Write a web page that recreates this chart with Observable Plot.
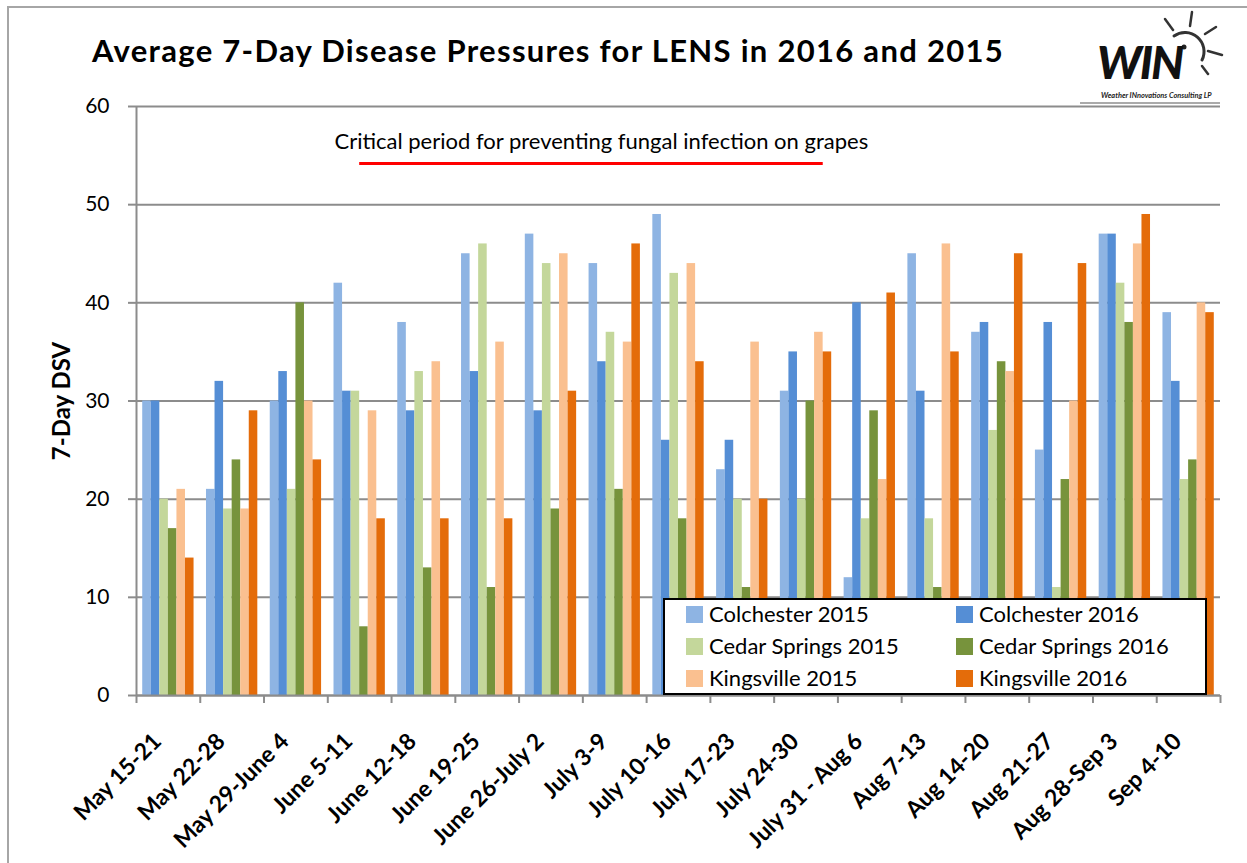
<!DOCTYPE html>
<html>
<head>
<meta charset="utf-8">
<script src="https://cdn.jsdelivr.net/npm/d3@7"></script>
<script src="https://cdn.jsdelivr.net/npm/@observablehq/plot@0.6"></script>
<style>
  html, body { margin: 0; padding: 0; background: #fff; }
  #wrap { position: relative; width: 1247px; height: 863px; overflow: hidden; font-family: Lato, "Open Sans", sans-serif; background: #fff; }
  #frame { position: absolute; left: 7px; top: 6px; width: 1400px; height: 1000px; border: 2px solid #a6a6a6; box-sizing: border-box; }
  #chart { position: absolute; left: 0; top: 0; }
  #title { position: absolute; left: 92px; top: 35px; font-size: 31px; letter-spacing: 1.3px; font-weight: 700; line-height: 1; white-space: nowrap; color: #000; }
  #logo { position: absolute; left: 1080px; top: 0; }
  #legend { position: absolute; left: 663px; top: 598px; width: 544px; height: 97px; box-sizing: border-box; border: 2px solid #000; background: #fff; }
  .li { position: absolute; display: flex; align-items: center; font-size: 22px; line-height: 1; white-space: nowrap; color: #000; }
  .sw { width: 17px; height: 17px; margin-right: 6px; }
</style>
</head>
<body>
<div id="wrap">
  <div id="frame"></div>
  <div id="chart"></div>
  <div id="title"></div>
  <svg id="logo" width="167" height="110" viewBox="0 0 167 110">
    <g stroke="#333" stroke-linecap="round" fill="none">
      <path d="M 94 36 A 19 19 0 0 1 122 60" stroke-width="3"/>
      <line x1="93" y1="30" x2="85" y2="19" stroke-width="2.5"/>
      <line x1="110" y1="26" x2="112" y2="12" stroke-width="2.5"/>
      <line x1="125" y1="34" x2="136" y2="27" stroke-width="2.5"/>
      <line x1="128" y1="51" x2="142" y2="55" stroke-width="2.5"/>
      <line x1="122" y1="66" x2="128" y2="74" stroke-width="2.5"/>
    </g>
    <circle cx="104" cy="47" r="2.5" fill="#222"/>
    <text x="17" y="79" font-family="Lato, sans-serif" font-size="46" font-weight="900" font-style="italic" letter-spacing="-2" fill="#111">WIN</text>
    <text x="21" y="98" font-family="Lato, sans-serif" font-size="7.4" font-weight="700" font-style="italic" fill="#222">Weather INnovations Consulting LP</text>
    <line x1="0" y1="103" x2="140" y2="103" stroke="#aaa" stroke-width="2"/>
  </svg>
  <div id="legend"></div>
</div>
<script>
// ---- data ----
const titleText = "Average 7-Day Disease Pressures for LENS in 2016 and 2015";
const yLabel = "7-Day DSV";
const weeks = ["May 15-21", "May 22-28", "May 29-June 4", "June 5-11", "June 12-18", "June 19-25", "June 26-July 2", "July 3-9", "July 10-16", "July 17-23", "July 24-30", "July 31 - Aug 6", "Aug 7-13", "Aug 14-20", "Aug 21-27", "Aug 28-Sep 3", "Sep 4-10"];
const seriesNames = ["Colchester 2015", "Colchester 2016", "Cedar Springs 2015", "Cedar Springs 2016", "Kingsville 2015", "Kingsville 2016"];
const colchester2015    = [30, 21, 30, 42, 38, 45, 47, 44, 49, 23, 31, 12, 45, 37, 25, 47, 39];
const colchester2016    = [30, 32, 33, 31, 29, 33, 29, 34, 26, 26, 35, 40, 31, 38, 38, 47, 32];
const cedarSprings2015  = [20, 19, 21, 31, 33, 46, 44, 37, 43, 20, 20, 18, 18, 27, 11, 42, 22];
const cedarSprings2016  = [17, 24, 40,  7, 13, 11, 19, 21, 18, 11, 30, 29, 11, 34, 22, 38, 24];
const kingsville2015    = [21, 19, 30, 29, 34, 36, 45, 36, 44, 36, 37, 22, 46, 33, 30, 46, 40];
const kingsville2016    = [14, 29, 24, 18, 18, 18, 31, 46, 34, 20, 35, 41, 35, 45, 44, 49, 39];
const seriesColors = ["#8EB4E3", "#558ED5", "#C4D79B", "#77933C", "#FAC090", "#E46C0A"];
const yTicks = [0, 10, 20, 30, 40, 50, 60];
const annotationText = [{label: "Critical period for preventing fungal infection on grapes", x: 7.29, y: 56.4}];
const criticalPeriod = [{from: 3.5, to: 10.77, y: 54.2}];

// ---- table ----
const seriesValues = [colchester2015, colchester2016, cedarSprings2015, cedarSprings2016, kingsville2015, kingsville2016];
const rows = weeks.flatMap((w, i) => seriesNames.map((s, si) => ({week: w, wi: i, series: s, si, value: seriesValues[si][i]})));

const pad = 0.0975;
const bw = (1 - 2 * pad) / seriesNames.length;
const gray = "#8c8c8c";

const chart = Plot.plot({
  width: 1247,
  height: 863,
  marginLeft: 136,
  marginRight: 27,
  marginTop: 106,
  marginBottom: 168,
  style: {fontFamily: "Lato, 'Open Sans', sans-serif", background: "none", color: "#000"},
  x: {domain: [0, weeks.length]},
  y: {domain: [0, 60]},
  color: {domain: seriesNames, range: seriesColors},
  marks: [
    Plot.gridY(yTicks, {stroke: gray, strokeOpacity: 1, strokeWidth: 2}),
    Plot.rectY(rows, {
      x1: d => d.wi + pad + d.si * bw,
      x2: d => d.wi + pad + (d.si + 1) * bw,
      y1: 0,
      y2: "value",
      fill: "series"
    }),
    Plot.ruleX([0], {stroke: gray, strokeWidth: 2}),
    Plot.ruleY([0], {stroke: gray, strokeWidth: 2}),
    Plot.axisY({ticks: yTicks, tickSize: 8, tickPadding: 19, fontSize: 21, stroke: gray, strokeWidth: 2, label: null}),
    Plot.axisX({ticks: d3.range(weeks.length + 1), tickSize: 8, tickFormat: () => "", stroke: gray, strokeWidth: 2, label: null}),
    Plot.axisX({
      ticks: d3.range(weeks.length).map(i => i + 0.5),
      tickSize: 0,
      tickPadding: 42,
      tickRotate: -45,
      tickFormat: v => weeks[Math.floor(v)],
      fontSize: 23,
      fontWeight: "bold",
      dx: -11,
      label: null
    }),
    Plot.text([yLabel], {frameAnchor: "left", textAnchor: "middle", rotate: -90, dx: -74, fontSize: 24, fontWeight: "bold", fill: "#000"}),
    Plot.text(annotationText, {x: "x", y: "y", text: "label", fontSize: 22, fill: "#000"}),
    Plot.ruleY(criticalPeriod, {x1: "from", x2: "to", y: "y", stroke: "#ff0000", strokeWidth: 3})
  ]
});
document.getElementById("chart").appendChild(chart);
document.getElementById("title").textContent = titleText;

// ---- legend ----
const legend = document.getElementById("legend");
const colX = [21, 291];
const rowY = [14, 46, 78];
seriesNames.forEach((name, i) => {
  const col = i % 2, row = Math.floor(i / 2);
  const item = document.createElement("div");
  item.className = "li";
  item.style.left = colX[col] + "px";
  item.style.top = (rowY[row] - 11) + "px";
  const sw = document.createElement("span");
  sw.className = "sw";
  sw.style.background = seriesColors[i];
  const tx = document.createElement("span");
  tx.textContent = name;
  item.appendChild(sw);
  item.appendChild(tx);
  legend.appendChild(item);
});
</script>
</body>
</html>
